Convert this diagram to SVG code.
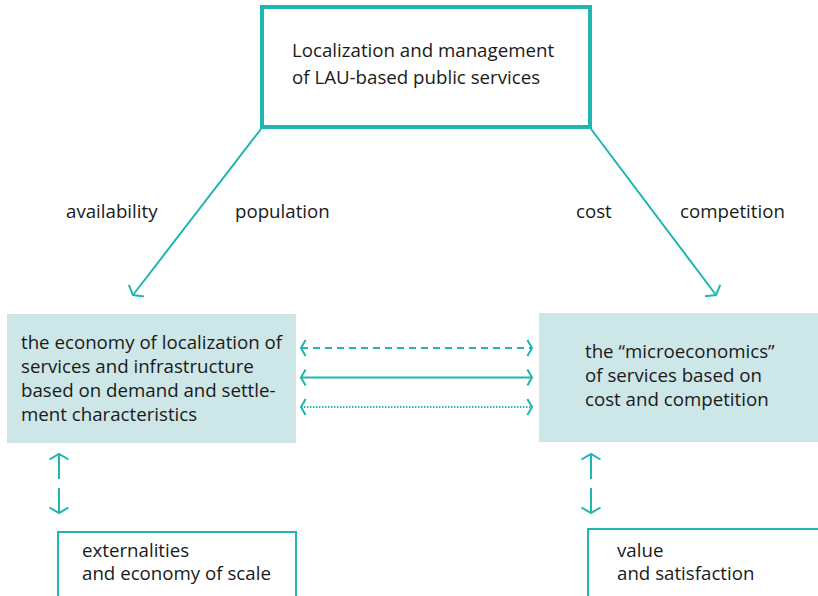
<svg xmlns="http://www.w3.org/2000/svg" width="818" height="596" viewBox="0 0 818 596">
  <style>
    text { font-family: "Open Sans", "Noto Sans", "DejaVu Sans", sans-serif; font-size: 18.7px; fill: #1a1a1a; }
    .frame { fill: none; stroke: #1fb5b0; }
    .panel { fill: #cde6e7; stroke: none; }
    .link { fill: none; stroke: #1fb5b0; stroke-width: 2; }
  </style>
  <defs>
    <marker id="chev" markerUnits="userSpaceOnUse" viewBox="-8 -11 10 22" markerWidth="10" markerHeight="22" refX="0" refY="0" orient="auto-start-reverse" overflow="visible">
      <path d="M-5.5,-9.5 L0,0 L-5.5,9.5" fill="none" stroke="#1fb5b0" stroke-width="2" stroke-dasharray="none" stroke-linejoin="miter"/>
    </marker>
    <marker id="chev-s" markerUnits="userSpaceOnUse" viewBox="-8 -11 10 22" markerWidth="10" markerHeight="22" refX="0" refY="0" orient="auto-start-reverse" overflow="visible">
      <path d="M-4.6,-8 L0,0 L-4.6,8" fill="none" stroke="#1fb5b0" stroke-width="2" stroke-dasharray="none"/>
    </marker>
  </defs>

  <!-- top node -->
  <g id="node-top">
    <rect class="frame" x="262" y="7" width="328" height="120" stroke-width="4"/>
    <text x="292" y="57">Localization and management</text>
    <text x="292" y="84">of LAU-based public services</text>
  </g>

  <!-- left middle node -->
  <g id="node-localization">
    <rect class="panel" x="7" y="314" width="289" height="129"/>
    <text x="21" y="349">the economy of localization of</text>
    <text x="21" y="373">services and infrastructure</text>
    <text x="21" y="397">based on demand and settle-</text>
    <text x="21" y="421">ment characteristics</text>
  </g>

  <!-- right middle node -->
  <g id="node-microeconomics">
    <rect class="panel" x="539" y="313" width="285" height="129"/>
    <text x="585" y="358">the “microeconomics”</text>
    <text x="585" y="382">of services based on</text>
    <text x="585" y="406">cost and competition</text>
  </g>

  <!-- bottom left node -->
  <g id="node-externalities">
    <rect class="frame" x="58" y="532" width="238" height="80" stroke-width="2"/>
    <text x="82" y="557">externalities</text>
    <text x="82" y="580">and economy of scale</text>
  </g>

  <!-- bottom right node -->
  <g id="node-value">
    <rect class="frame" x="588" y="529" width="240" height="80" stroke-width="2"/>
    <text x="617" y="557">value</text>
    <text x="617" y="580">and satisfaction</text>
  </g>

  <!-- edge labels -->
  <g id="labels">
    <text x="66" y="218">availability</text>
    <text x="235" y="218">population</text>
    <text x="576" y="218">cost</text>
    <text x="680" y="218">competition</text>
  </g>

  <!-- connectors -->
  <g id="connectors">
    <line class="link" x1="261" y1="129" x2="133" y2="295" marker-end="url(#chev)"/>
    <line class="link" x1="591" y1="129" x2="716" y2="295" marker-end="url(#chev)"/>

    <line class="link" x1="301" y1="348" x2="532" y2="348" stroke-dasharray="7,5" marker-start="url(#chev-s)" marker-end="url(#chev-s)"/>
    <line class="link" x1="301" y1="377.5" x2="532" y2="377.5" marker-start="url(#chev-s)" marker-end="url(#chev-s)"/>
    <line class="link" x1="301" y1="407" x2="532" y2="407" stroke-width="1.4" stroke-dasharray="1.4,1.6" marker-start="url(#chev-s)" marker-end="url(#chev-s)"/>

    <line class="link" x1="59" y1="479" x2="59" y2="454" marker-end="url(#chev)"/>
    <line class="link" x1="59" y1="488" x2="59" y2="513" marker-end="url(#chev)"/>
    <line class="link" x1="591" y1="479" x2="591" y2="454" marker-end="url(#chev)"/>
    <line class="link" x1="591" y1="488" x2="591" y2="513" marker-end="url(#chev)"/>
  </g>
</svg>
